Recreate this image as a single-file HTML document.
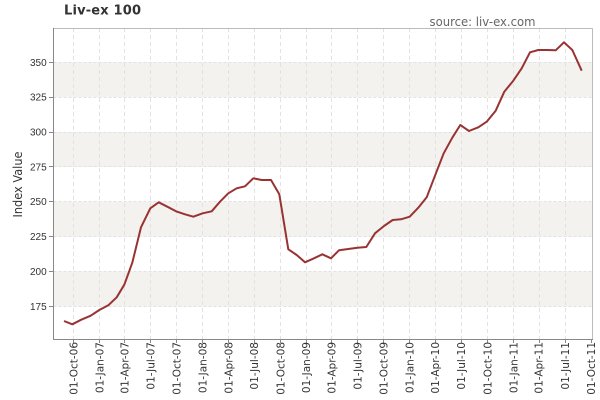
<!DOCTYPE html>
<html><head><meta charset="utf-8"><style>
html,body{margin:0;padding:0;background:#fff;}
svg{display:block;}
</style></head><body>
<svg width="600" height="400" xmlns="http://www.w3.org/2000/svg">
<rect width="600" height="400" fill="#fff"/>
<text x="64" y="14.5" font-family="DejaVu Sans, sans-serif" font-weight="bold" font-size="13" fill="#333" textLength="77" lengthAdjust="spacing">Liv-ex 100</text>
<text x="429.5" y="26" font-family="DejaVu Sans, sans-serif" font-size="12" fill="#666" textLength="106" lengthAdjust="spacingAndGlyphs">source: liv-ex.com</text>
<!-- bands -->
<g fill="#f3f2ee">
<rect x="53.5" y="271.4" width="539" height="34.9"/>
<rect x="53.5" y="201.7" width="539" height="34.9"/>
<rect x="53.5" y="132.0" width="539" height="34.9"/>
<rect x="53.5" y="62.3" width="539" height="34.8"/>
</g>
<!-- horizontal grid -->
<g stroke="#e2e2e2" stroke-width="1" stroke-dasharray="3,2">
<line x1="53.5" x2="592" y1="306.5" y2="306.5"/>
<line x1="53.5" x2="592" y1="271.5" y2="271.5"/>
<line x1="53.5" x2="592" y1="236.5" y2="236.5"/>
<line x1="53.5" x2="592" y1="201.5" y2="201.5"/>
<line x1="53.5" x2="592" y1="166.5" y2="166.5"/>
<line x1="53.5" x2="592" y1="132.5" y2="132.5"/>
<line x1="53.5" x2="592" y1="97.5" y2="97.5"/>
<line x1="53.5" x2="592" y1="62.5" y2="62.5"/>
</g>
<!-- vertical grid -->
<g stroke="#e2e2e2" stroke-width="1" stroke-dasharray="4,3">
<line x1="73.5" x2="73.5" y1="28" y2="339"/>
<line x1="99.5" x2="99.5" y1="28" y2="339"/>
<line x1="124.5" x2="124.5" y1="28" y2="339"/>
<line x1="150.5" x2="150.5" y1="28" y2="339"/>
<line x1="176.5" x2="176.5" y1="28" y2="339"/>
<line x1="202.5" x2="202.5" y1="28" y2="339"/>
<line x1="228.5" x2="228.5" y1="28" y2="339"/>
<line x1="254.5" x2="254.5" y1="28" y2="339"/>
<line x1="280.5" x2="280.5" y1="28" y2="339"/>
<line x1="306.5" x2="306.5" y1="28" y2="339"/>
<line x1="331.5" x2="331.5" y1="28" y2="339"/>
<line x1="357.5" x2="357.5" y1="28" y2="339"/>
<line x1="383.5" x2="383.5" y1="28" y2="339"/>
<line x1="409.5" x2="409.5" y1="28" y2="339"/>
<line x1="435.5" x2="435.5" y1="28" y2="339"/>
<line x1="461.5" x2="461.5" y1="28" y2="339"/>
<line x1="487.5" x2="487.5" y1="28" y2="339"/>
<line x1="513.5" x2="513.5" y1="28" y2="339"/>
<line x1="539.5" x2="539.5" y1="28" y2="339"/>
<line x1="565.5" x2="565.5" y1="28" y2="339"/>
</g>
<!-- plot outline -->
<line x1="53.5" y1="28.5" x2="592.5" y2="28.5" stroke="#bbb"/>
<line x1="592.5" y1="28.5" x2="592.5" y2="339" stroke="#bbb"/>
<line x1="53.5" y1="28" x2="53.5" y2="339.5" stroke="#888"/>
<line x1="53" y1="339.5" x2="593" y2="339.5" stroke="#888"/>
<!-- y ticks -->
<g stroke="#888">
<line x1="49" x2="53" y1="306.5" y2="306.5"/>
<line x1="49" x2="53" y1="271.5" y2="271.5"/>
<line x1="49" x2="53" y1="236.5" y2="236.5"/>
<line x1="49" x2="53" y1="201.5" y2="201.5"/>
<line x1="49" x2="53" y1="166.5" y2="166.5"/>
<line x1="49" x2="53" y1="132.5" y2="132.5"/>
<line x1="49" x2="53" y1="97.5" y2="97.5"/>
<line x1="49" x2="53" y1="62.5" y2="62.5"/>
</g>
<g font-family="Liberation Sans, sans-serif" font-size="10" fill="#333" text-anchor="end">
<text x="46.7" y="310">175</text>
<text x="46.7" y="275">200</text>
<text x="46.7" y="240">225</text>
<text x="46.7" y="205.2">250</text>
<text x="46.7" y="170.4">275</text>
<text x="46.7" y="135.6">300</text>
<text x="46.7" y="100.7">325</text>
<text x="46.7" y="65.9">350</text>
</g>
<text transform="translate(22,184.5) rotate(-90)" font-family="DejaVu Sans, sans-serif" font-size="12" fill="#333" text-anchor="middle" textLength="66" lengthAdjust="spacingAndGlyphs">Index Value</text>
<!-- x ticks -->
<g stroke="#888">
<line x1="73.5" x2="73.5" y1="339" y2="343"/>
<line x1="99.5" x2="99.5" y1="339" y2="343"/>
<line x1="124.5" x2="124.5" y1="339" y2="343"/>
<line x1="150.5" x2="150.5" y1="339" y2="343"/>
<line x1="176.5" x2="176.5" y1="339" y2="343"/>
<line x1="202.5" x2="202.5" y1="339" y2="343"/>
<line x1="228.5" x2="228.5" y1="339" y2="343"/>
<line x1="254.5" x2="254.5" y1="339" y2="343"/>
<line x1="280.5" x2="280.5" y1="339" y2="343"/>
<line x1="306.5" x2="306.5" y1="339" y2="343"/>
<line x1="331.5" x2="331.5" y1="339" y2="343"/>
<line x1="357.5" x2="357.5" y1="339" y2="343"/>
<line x1="383.5" x2="383.5" y1="339" y2="343"/>
<line x1="409.5" x2="409.5" y1="339" y2="343"/>
<line x1="435.5" x2="435.5" y1="339" y2="343"/>
<line x1="461.5" x2="461.5" y1="339" y2="343"/>
<line x1="487.5" x2="487.5" y1="339" y2="343"/>
<line x1="513.5" x2="513.5" y1="339" y2="343"/>
<line x1="539.5" x2="539.5" y1="339" y2="343"/>
<line x1="565.5" x2="565.5" y1="339" y2="343"/>
<line x1="591.5" x2="591.5" y1="339" y2="343"/>
</g>
<g font-family="DejaVu Sans, sans-serif" font-size="10.5" fill="#333" text-anchor="end">
<text transform="translate(77.3,342) rotate(-90)">01-Oct-06</text>
<text transform="translate(103.3,342) rotate(-90)">01-Jan-07</text>
<text transform="translate(128.6,342) rotate(-90)">01-Apr-07</text>
<text transform="translate(154.4,342) rotate(-90)">01-Jul-07</text>
<text transform="translate(180.5,342) rotate(-90)">01-Oct-07</text>
<text transform="translate(206.6,342) rotate(-90)">01-Jan-08</text>
<text transform="translate(232.4,342) rotate(-90)">01-Apr-08</text>
<text transform="translate(258.2,342) rotate(-90)">01-Jul-08</text>
<text transform="translate(284.3,342) rotate(-90)">01-Oct-08</text>
<text transform="translate(310.2,342) rotate(-90)">01-Jan-09</text>
<text transform="translate(335.7,342) rotate(-90)">01-Apr-09</text>
<text transform="translate(361.5,342) rotate(-90)">01-Jul-09</text>
<text transform="translate(387.4,342) rotate(-90)">01-Oct-09</text>
<text transform="translate(413.4,342) rotate(-90)">01-Jan-10</text>
<text transform="translate(439,342) rotate(-90)">01-Apr-10</text>
<text transform="translate(464.9,342) rotate(-90)">01-Jul-10</text>
<text transform="translate(491.3,342) rotate(-90)">01-Oct-10</text>
<text transform="translate(517.3,342) rotate(-90)">01-Jan-11</text>
<text transform="translate(542.7,342) rotate(-90)">01-Apr-11</text>
<text transform="translate(568.8,342) rotate(-90)">01-Jul-11</text>
<text transform="translate(595,342) rotate(-90)">01-Oct-11</text>
</g>
<!-- series -->
<polyline fill="none" stroke="#993333" stroke-width="2" stroke-linejoin="round" points="
64,321 72.3,324.3 81,319.8 90.7,315.7 99.3,310 108.3,305.3 116.7,297.3 124.3,284.7 132.3,262.7 141,227.3
150.3,208.3 158.7,202.3 167.3,206.7 176,211.3 185,214.3 193.3,216.7 202.7,213.3 211.7,211.3 220,201.7 228.3,193.3
236.7,188.3 245,186.3 253.3,178.3 261.7,180 271,180 279.3,194.3 288.3,249.3 296.7,255 305,262.3 314,258.3
322.3,254.3 331,258.3 339,250.3 348.3,249 357.3,247.7 366.3,247 375,233.3 384,226 392.7,220 401,219.3
409.7,216.7 418.3,207.7 426.7,197.3 435,175.7 443.7,153.3 452.3,137.7 460.3,125 469,131 478.3,127.3 486.7,121.7
495.7,110.7 504.3,91.7 513.3,80.7 521.7,68.3 530,52.3 538.3,50 546.7,50 555.7,50.3 564,42.3 572.3,50 581.7,70.7"/>
</svg>
</body></html>
